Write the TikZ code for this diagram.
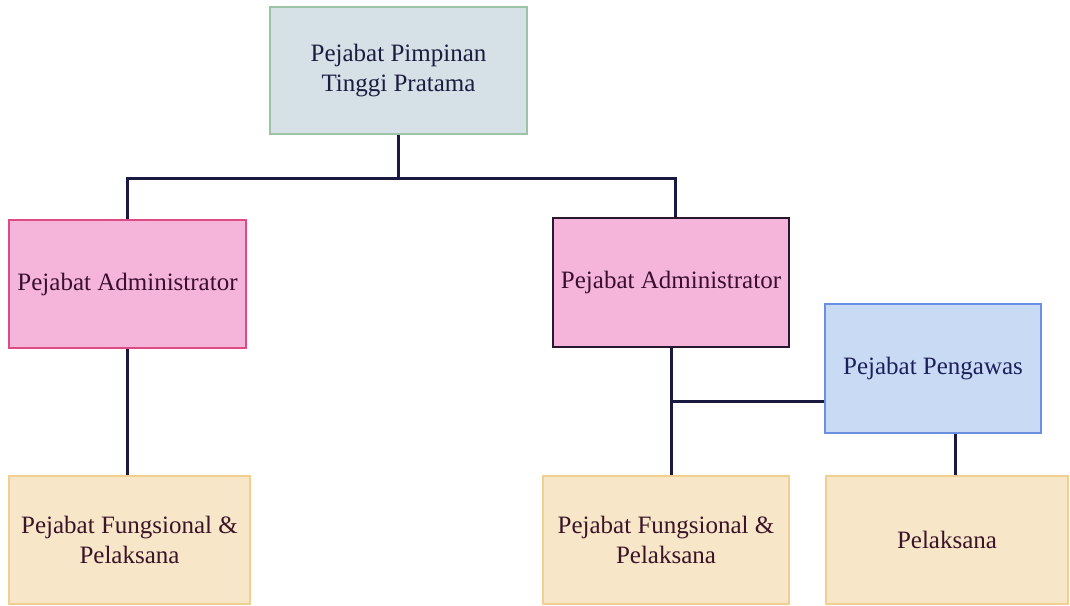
\documentclass[tikz,border=0pt]{standalone}
\usepackage{fontspec}
\setmainfont{Liberation Serif}
\definecolor{topfill}{HTML}{D5E1E6}
\definecolor{topdraw}{HTML}{9CC3A6}
\definecolor{topText}{HTML}{1C1C40}
\definecolor{pinkfill}{HTML}{F5B5DA}
\definecolor{pinkdrawA}{HTML}{E04A82}
\definecolor{pinkdrawB}{HTML}{2A1730}
\definecolor{pinkText}{HTML}{3A0E30}
\definecolor{bluefill}{HTML}{C9DAF5}
\definecolor{bluedraw}{HTML}{6A90E2}
\definecolor{blueText}{HTML}{1C205A}
\definecolor{creamfill}{HTML}{F8E6C8}
\definecolor{creamdraw}{HTML}{F0CF90}
\definecolor{creamText}{HTML}{3A1428}
\definecolor{linecol}{HTML}{1A1A40}
\begin{document}
\begin{tikzpicture}[x=0.5pt,y=-0.5pt,
  box/.style={draw, line width=1.1pt, inner sep=0pt, align=center,
    font=\fontsize{12.5}{15}\selectfont},
  topbox/.style={box, fill=topfill, draw=topdraw, text=topText},
  adminA/.style={box, fill=pinkfill, draw=pinkdrawA, text=pinkText},
  adminB/.style={box, fill=pinkfill, draw=pinkdrawB, text=pinkText},
  pengbox/.style={box, fill=bluefill, draw=bluedraw, text=blueText},
  lowbox/.style={box, fill=creamfill, draw=creamdraw, text=creamText},
  conn/.style={draw=linecol, line width=1.5pt}]
\useasboundingbox (0,0) rectangle (1070,605);
\fill[white] (0,0) rectangle (1070,605);

\node[topbox, minimum width=128.5pt, minimum height=63.5pt] (top) at (398.5,70.5)
  {Pejabat Pimpinan\\Tinggi Pratama};
\node[adminA, minimum width=118.5pt, minimum height=64pt] (admA) at (127.5,284)
  {Pejabat Administrator};
\node[adminB, minimum width=118pt, minimum height=64.5pt] (admB) at (671,282.5)
  {Pejabat Administrator};
\node[pengbox, minimum width=108pt, minimum height=64.5pt] (peng) at (933,368.5)
  {Pejabat Pengawas};
\node[lowbox, minimum width=120.5pt, minimum height=64pt] (fpA) at (129.5,540)
  {Pejabat Fungsional \&\\Pelaksana};
\node[lowbox, minimum width=123pt, minimum height=64pt] (fpB) at (666,540)
  {Pejabat Fungsional \&\\Pelaksana};
\node[lowbox, minimum width=121pt, minimum height=64pt] (pel) at (947,540)
  {Pelaksana};

\coordinate (j) at (398.5,178);
\draw[conn] (top.south) -- (j);
\draw[conn] (admA.north) |- (j) -| ([xshift=2pt]admB.north);
\draw[conn] (admA.south) -- (admA.south |- fpA.north);
\draw[conn] (admB.south) -- (admB.south |- fpB.north);
\draw[conn] ([yshift=-16.25pt]peng.west) -- ([yshift=-16.25pt]peng.west -| admB.south);
\draw[conn] ([xshift=11pt]peng.south) -- ([xshift=11pt]peng.south |- pel.north);
\end{tikzpicture}
\end{document}
